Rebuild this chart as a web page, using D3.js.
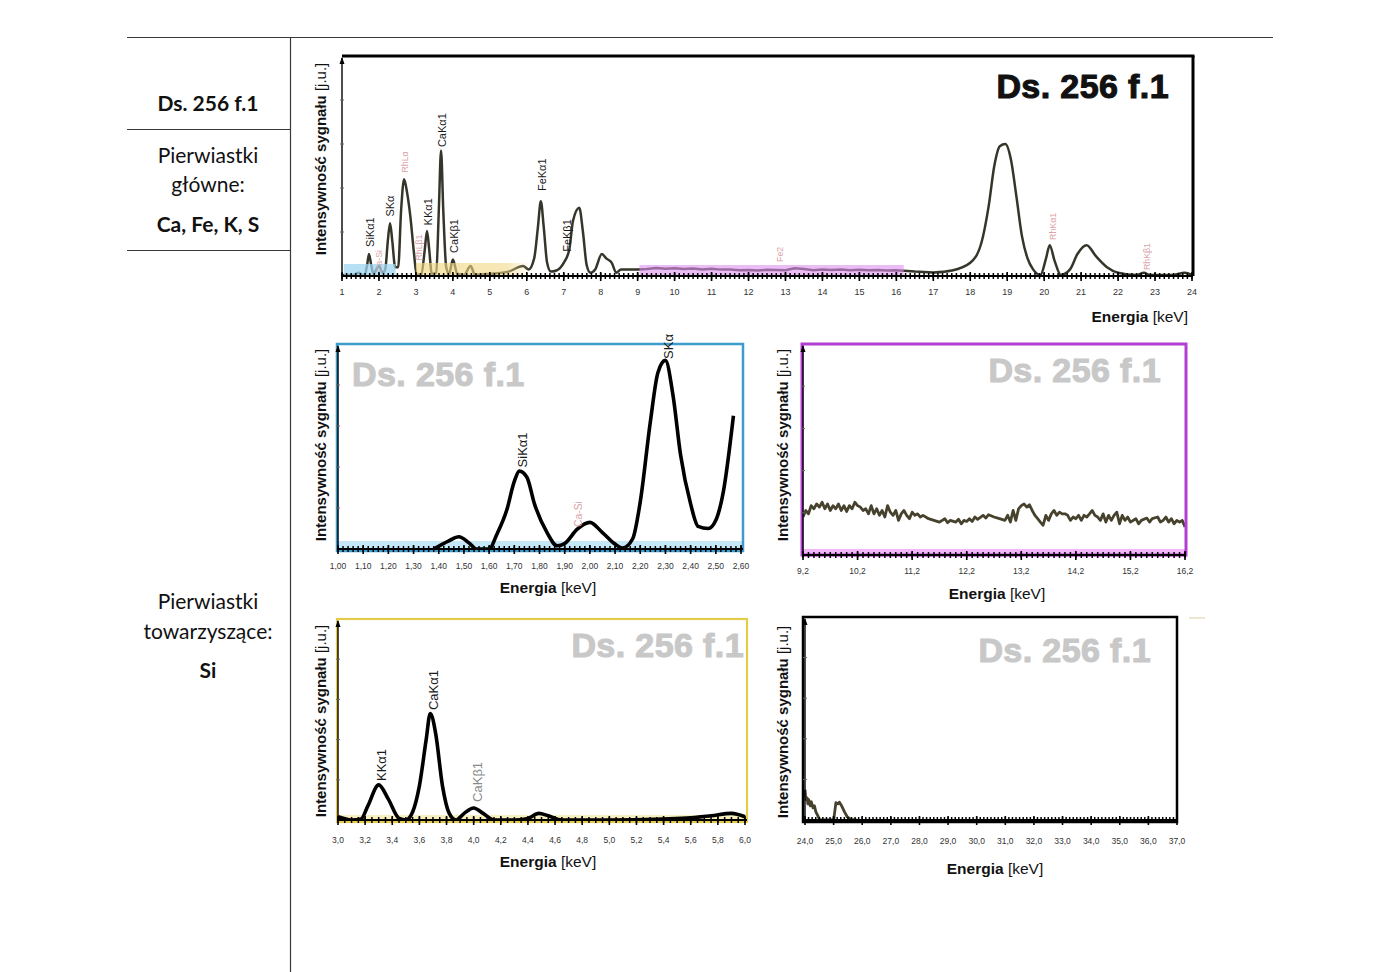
<!DOCTYPE html>
<html><head><meta charset="utf-8">
<script src="https://cdn.jsdelivr.net/npm/d3@7"></script>
<style>html,body{margin:0;padding:0;background:#fff;}svg{display:block;}</style>
</head><body>
<svg id="c" width="1400" height="972"></svg>
<script>
// ---------------- DATA ----------------
const sampleName = "Ds. 256 f.1";
const mainElementsLabel = ["Pierwiastki", "główne:"];
const mainElements = "Ca, Fe, K, S";
const traceElementsLabel = ["Pierwiastki", "towarzyszące:"];
const traceElements = "Si";
const yAxisTitle = ["Intensywność sygnału", " [j.u.]"];
const xAxisTitle = ["Energia", " [keV]"];

// full spectrum 1-24 keV  [energy keV, intensity a.u.]
const mainSpectrum = [
 [1.0,0.5],[1.3,0.5],[1.45,1.5],[1.55,0.5],[1.62,0.6],[1.68,5],[1.73,10],[1.79,5],[1.85,1],[1.9,2],[2.0,4.5],[2.1,1.5],[2.17,3],
 [2.24,16],[2.3,24],[2.36,16],[2.44,4],[2.52,4],[2.6,30],[2.68,44],[2.76,38],[2.85,27],[2.95,10],[3.02,0.5],[3.15,1],
 [3.24,12],[3.3,20.5],[3.36,12],[3.43,1],[3.55,1.5],[3.62,30],[3.68,57],[3.74,30],[3.82,4],[3.9,1],[4.0,7.5],[4.12,1],
 [4.3,0.5],[4.48,4.5],[4.6,0.5],[5.0,1],[5.5,2],[5.9,4.5],[6.05,3],[6.2,8],[6.3,22],[6.38,34],[6.46,22],[6.55,6],[6.65,2],[6.8,2.5],
 [7.0,6],[7.15,12],[7.25,25],[7.42,31],[7.52,20],[7.62,5],[7.72,1.5],[7.85,3],[8.03,10],[8.15,8],[8.3,6],[8.42,1.5],[8.55,3],[8.9,3]
];
const mainSpectrumMid = [
 [8.9,3],[9.0,3],[9.25,3.2],[9.5,3.6],[9.75,3.3],[10.0,3.5],[10.25,3.2],[10.5,3.4],[10.75,3.0],[11.0,3.3],[11.25,2.9],[11.5,3.0],
 [11.75,2.6],[12.0,2.7],[12.25,2.5],[12.5,2.8],[12.75,2.7],[13.0,2.6],[13.25,3.5],[13.5,3.2],[13.75,2.6],[14.0,2.9],[14.25,2.7],
 [14.5,3.0],[14.75,2.6],[15.0,2.8],[15.25,2.6],[15.5,2.7],[15.75,2.5],[16.0,2.6],[16.2,2.4],[16.5,2.0],[17.0,1.6]
];
const mainSpectrumHigh = [
 [17.0,1.6],[17.5,2.5],[18.0,6],[18.3,15],[18.5,32],[18.65,50],[18.8,59],[18.95,60],[19.1,53],[19.25,36],[19.4,18],[19.55,8],
 [19.7,3],[19.9,0.5],[20.05,8],[20.15,14],[20.28,7],[20.45,0.5],[20.7,3],[20.9,10],[21.15,14],[21.4,9],[21.7,4],[22.0,1.5],
 [22.5,0.5],[22.7,1.5],[22.85,0.5],[23.5,0.5],[23.8,1.5],[24.0,0.5]
];
// highlighted windows on the full spectrum [start keV, end keV]
const windowSi = [1.05, 2.45];
const windowCa = [3.0, 6.05];
const windowMid = [9.05, 16.2];

// zoom 1.0-2.6 keV (% of panel height)
const siSpectrum = [
 [1.38,0],[1.44,4],[1.48,6],[1.52,3],[1.55,0],[1.60,0],[1.63,7],[1.67,19],[1.70,33],[1.72,38],[1.75,35],[1.78,22],[1.83,8],
 [1.87,1.6],[1.90,2.7],[1.95,9.7],[2.00,13],[2.05,8],[2.10,2.4],[2.13,0.5],[2.17,5],[2.20,23],[2.24,62],[2.27,86],[2.30,92],
 [2.33,75],[2.36,46],[2.40,22],[2.43,11],[2.47,10],[2.50,14],[2.53,28],[2.57,65]
];
// zoom 3.0-6.0 keV
const caSpectrum = [
 [3.0,1.6],[3.1,0],[3.17,0.5],[3.22,7],[3.3,17.5],[3.37,10.5],[3.45,0.8],[3.5,0],[3.55,4],[3.6,17],[3.65,40],[3.68,53],[3.72,43],
 [3.77,17],[3.82,3.3],[3.87,0],[3.93,3.3],[4.0,6],[4.07,3.3],[4.15,0],[4.3,0],[4.4,0.8],[4.48,3.3],[4.55,2.1],[4.65,0],[5.0,0],
 [5.4,0.5],[5.6,1.1],[5.75,2.1],[5.9,3.3],[6.0,1.6]
];
// zoom 9.2-16.2 keV
const midSpectrum = [
 [9.2,18.0],[9.25,21.1],[9.3,19.5],[9.35,23.4],[9.4,21.9],[9.45,24.2],[9.5,22.7],[9.55,25.0],[9.6,21.9],[9.65,24.2],[9.7,21.1],
 [9.75,23.4],[9.8,21.9],[9.85,24.2],[9.9,21.1],[9.95,23.4],[10.0,20.6],[10.05,23.4],[10.1,21.9],[10.15,25.0],[10.2,23.4],
 [10.25,22.7],[10.3,21.1],[10.35,21.9],[10.4,19.5],[10.45,23.4],[10.5,19.5],[10.55,21.9],[10.6,18.8],[10.65,21.1],[10.7,18.0],
 [10.75,23.4],[10.8,20.3],[10.85,18.8],[10.9,21.1],[10.95,16.4],[11.0,19.5],[11.05,21.1],[11.1,18.8],[11.15,17.2],[11.2,20.3],
 [11.25,18.8],[11.3,19.5],[11.35,18.0],[11.4,18.8],[11.5,17.2],[11.6,16.4],[11.7,15.6],[11.8,17.2],[11.85,15.3],[11.9,16.4],
 [12.0,15.6],[12.05,16.9],[12.1,14.8],[12.15,16.4],[12.2,15.9],[12.25,17.2],[12.3,15.9],[12.35,18.0],[12.4,16.9],[12.5,18.8],
 [12.55,17.5],[12.6,19.1],[12.7,18.0],[12.8,17.2],[12.9,16.4],[12.95,18.8],[13.0,15.6],[13.05,21.1],[13.1,16.4],[13.15,21.9],
 [13.2,23.4],[13.25,24.2],[13.3,22.7],[13.35,23.8],[13.4,21.1],[13.45,18.8],[13.5,17.2],[13.55,15.6],[13.6,14.1],[13.65,18.8],
 [13.7,16.4],[13.75,19.5],[13.8,21.1],[13.85,18.8],[13.9,20.3],[13.95,19.5],[14.0,19.5],[14.05,18.8],[14.1,16.4],[14.15,18.0],
 [14.2,17.2],[14.25,18.8],[14.3,16.4],[14.35,18.8],[14.4,18.0],[14.45,19.5],[14.5,21.1],[14.55,18.8],[14.6,18.0],[14.65,16.4],
 [14.7,19.5],[14.75,15.6],[14.8,18.8],[14.85,16.4],[14.9,18.8],[14.95,20.3],[15.0,14.8],[15.05,18.8],[15.1,16.4],[15.15,18.0],
 [15.2,15.6],[15.3,17.2],[15.35,14.8],[15.4,16.4],[15.5,17.5],[15.55,15.6],[15.6,17.2],[15.7,18.0],[15.75,15.6],[15.8,16.4],
 [15.85,18.0],[15.9,15.6],[15.95,17.2],[16.0,14.8],[16.05,16.4],[16.1,15.6],[16.15,16.4],[16.2,13.3]
];
// zoom 24-37 keV
const highSpectrum = [
 [24.0,15],[24.03,10],[24.07,11],[24.1,8],[24.13,10],[24.18,7],[24.22,9],[24.28,6],[24.33,7],[24.38,4],[24.45,2],[24.52,0],
 [25.0,0],[25.03,3],[25.08,8.5],[25.15,8],[25.2,8.8],[25.28,7],[25.38,4],[25.48,1.5],[25.6,0.3],[25.8,0]
];

// peak labels [text, energy, intensity at label start, kind]
const mainLabels = [
 ["SiKα1",1.76,13.2,"k"],["Ca-Si",1.97,1.8,"p"],["SKα",2.30,27,"k"],["RhLα",2.68,47,"p"],["RhLβ1",3.05,7,"p"],
 ["KKα1",3.33,23,"k"],["CaKα1",3.70,58.6,"k"],["CaKβ1",4.03,10.5,"k"],["FeKα1",6.41,38.6,"k"],["FeKβ1",7.09,11,"k"],
 ["Fe2",12.82,6.4,"p"],["RhKα1",20.21,16.4,"p"],["RhKβ1",22.75,2.7,"p"]
];
const siLabels = [["SiKα1",1.73,39.8,"k"],["Ca-Si",1.95,10.7,"p"],["SKα",2.31,92.7,"k"]];
const caLabels = [["KKα1",3.32,19.4,"k"],["CaKα1",3.70,54.7,"k"],["CaKβ1",4.03,9,"g"]];

// tick values
const mainTicks = d3.range(1, 25, 1);
const siTicks = d3.range(1.0, 2.601, 0.1);
const caTicks = d3.range(3.0, 6.001, 0.2);
const midTicks = d3.range(9.2, 16.21, 1);
const highTicks = d3.range(24, 37.01, 1);

// ---------------- DRAWING ----------------
const svg = d3.select("#c");
const FONT = "'Liberation Sans', Arial, sans-serif";
const CAL = "Lato, 'Open Sans', sans-serif";
const loc = d3.formatLocale({decimal: ",", thousands: " ", grouping: [3], currency: ["", ""]});
const labelColor = {k: "#1a1a1a", p: "#d9a3a8", g: "#8a8a8a"};

// page table lines
const page = svg.append("g").attr("stroke", "#3a3a3a").attr("stroke-width", 1.2);
page.append("line").attr("x1", 127).attr("x2", 1273).attr("y1", 37.5).attr("y2", 37.5);
page.append("line").attr("x1", 290.5).attr("x2", 290.5).attr("y1", 37).attr("y2", 972);
page.append("line").attr("x1", 127).attr("x2", 290).attr("y1", 129.5).attr("y2", 129.5);
page.append("line").attr("x1", 127).attr("x2", 290).attr("y1", 250.5).attr("y2", 250.5);

function leftText(t, y, bold) {
  svg.append("text").attr("x", 208).attr("y", y).attr("text-anchor", "middle")
    .attr("font-family", CAL).attr("font-size", 21).attr("font-weight", bold ? 700 : 400)
    .attr("fill", "#111").text(t);
}
leftText(sampleName, 111, true);
leftText(mainElementsLabel[0], 163, false);
leftText(mainElementsLabel[1], 192, false);
leftText(mainElements, 232, true);
leftText(traceElementsLabel[0], 609, false);
leftText(traceElementsLabel[1], 639, false);
leftText(traceElements, 678, true);

function yTitle(g, x, yc) {
  const t = g.append("text").attr("transform", `translate(${x},${yc}) rotate(-90)`)
    .attr("text-anchor", "middle").attr("font-family", FONT).attr("font-size", 15).attr("fill", "#111");
  t.append("tspan").attr("font-weight", 700).text(yAxisTitle[0]);
  t.append("tspan").attr("font-weight", 400).text(yAxisTitle[1]);
}
function xTitle(g, x, y, anchor) {
  const t = g.append("text").attr("x", x).attr("y", y).attr("text-anchor", anchor)
    .attr("font-family", FONT).attr("font-size", 15.5).attr("fill", "#111");
  t.append("tspan").attr("font-weight", 700).text(xAxisTitle[0]);
  t.append("tspan").attr("font-weight", 400).text(xAxisTitle[1]);
}

function panel(cfg) {
  const g = svg.append("g");
  const x = d3.scaleLinear().domain(cfg.xDomain).range([cfg.x0, cfg.x1]);
  const y = d3.scaleLinear().domain([0, 100]).range([cfg.yBase, cfg.yTop]);
  const line = d3.line().x(d => x(d[0])).y(d => y(d[1]));

  if (cfg.strip) {
    g.append("rect").attr("x", cfg.fx0).attr("y", cfg.yBase - cfg.strip.h).attr("width", cfg.fx1 - cfg.fx0)
      .attr("height", cfg.strip.h + 2).attr("fill", cfg.strip.color);
  }
  cfg.series.forEach(s => {
    g.append("path").datum(s.data).attr("fill", "none").attr("stroke", cfg.lineColor)
      .attr("stroke-width", cfg.lineWidth).attr("stroke-linejoin", "round")
      .attr("d", line.curve(s.curve || d3.curveMonotoneX));
  });
  if (cfg.bands) {
    const defs = svg.append("defs");
    cfg.bands.forEach((b, i) => {
      let fill = b.color;
      if (b.fade) {
        const id = "fade" + i + Math.round(cfg.x0);
        const gr = defs.append("linearGradient").attr("id", id).attr("x1", "0").attr("x2", "1").attr("y1", "0").attr("y2", "0");
        gr.append("stop").attr("offset", "0").attr("stop-color", b.color).attr("stop-opacity", 1);
        gr.append("stop").attr("offset", "0.8").attr("stop-color", b.color).attr("stop-opacity", 0.9);
        gr.append("stop").attr("offset", "1").attr("stop-color", b.color).attr("stop-opacity", 0.1);
        fill = `url(#${id})`;
      }
      g.append("rect").attr("x", x(b.range[0])).attr("width", x(b.range[1]) - x(b.range[0]))
        .attr("y", cfg.yBase - b.h).attr("height", b.h).attr("fill", fill).attr("opacity", b.opacity);
    });
  }
  // frame
  if (cfg.frame) {
    g.append("rect").attr("x", cfg.fx0).attr("y", cfg.yTop).attr("width", cfg.fx1 - cfg.fx0)
      .attr("height", cfg.fy1 - cfg.yTop).attr("fill", "none").attr("stroke", cfg.frame.color)
      .attr("stroke-width", cfg.frame.w);
  } else {
    g.append("line").attr("x1", cfg.x0).attr("x2", cfg.fx1 + 1.5).attr("y1", cfg.yTop).attr("y2", cfg.yTop)
      .attr("stroke", "#000").attr("stroke-width", 3);
    g.append("line").attr("x1", cfg.fx1).attr("x2", cfg.fx1).attr("y1", cfg.yTop).attr("y2", cfg.yBase)
      .attr("stroke", "#000").attr("stroke-width", 3);
  }
  // y axis with arrow
  g.append("line").attr("x1", cfg.x0).attr("x2", cfg.x0).attr("y1", cfg.yBase).attr("y2", cfg.yTop + 2)
    .attr("stroke", "#000").attr("stroke-width", 1.4);
  g.append("path").attr("d", `M${cfg.x0 - 2.5},${cfg.yTop + 8} L${cfg.x0},${cfg.yTop + 1} L${cfg.x0 + 2.5},${cfg.yTop + 8} Z`).attr("fill", "#000");
  g.selectAll("line.yt").data(y.ticks(5).slice(1, -1)).join("line").attr("class", "yt")
    .attr("x1", cfg.x0 - 2).attr("x2", cfg.x0 + 2).attr("y1", d => y(d)).attr("y2", d => y(d))
    .attr("stroke", "#666").attr("stroke-width", 1);
  // x axis comb
  g.append("line").attr("x1", cfg.x0).attr("x2", cfg.fx1).attr("y1", cfg.yBase).attr("y2", cfg.yBase)
    .attr("stroke", "#000").attr("stroke-width", 2);
  const minor = d3.range(cfg.xDomain[0], cfg.xDomain[1] + 1e-6, cfg.minorStep);
  g.selectAll("line.mt").data(minor).join("line").attr("class", "mt")
    .attr("x1", d => x(d)).attr("x2", d => x(d)).attr("y1", cfg.yBase - 3).attr("y2", cfg.yBase + 3)
    .attr("stroke", "#000").attr("stroke-width", 1.5);
  g.selectAll("line.Mt").data(cfg.ticks).join("line").attr("class", "Mt")
    .attr("x1", d => x(d)).attr("x2", d => x(d)).attr("y1", cfg.yBase - 4).attr("y2", cfg.yBase + 5)
    .attr("stroke", "#000").attr("stroke-width", 1.6);
  g.selectAll("text.tl").data(cfg.ticks).join("text").attr("class", "tl")
    .attr("x", d => x(d)).attr("y", cfg.tickY).attr("text-anchor", "middle")
    .attr("font-family", FONT).attr("font-size", cfg.tickSize).attr("fill", "#333")
    .text(d => cfg.tickFmt(d));
  // peak labels
  if (cfg.labels) {
    g.selectAll("text.pl").data(cfg.labels).join("text").attr("class", "pl")
      .attr("transform", d => `translate(${x(d[1]) + cfg.labelSize * 0.36},${y(d[2])}) rotate(-90)`)
      .attr("font-family", FONT).attr("font-size", d => d[3] === "p" ? cfg.labelSize * 0.8 : cfg.labelSize)
      .attr("fill", d => labelColor[d[3]]).text(d => d[0]);
  }
  // title
  g.append("text").attr("x", cfg.title.x).attr("y", cfg.title.y).attr("text-anchor", cfg.title.anchor)
    .attr("font-family", FONT).attr("font-weight", 700).attr("font-size", 34)
    .attr("letter-spacing", 0.4).attr("stroke", cfg.title.color).attr("stroke-width", 1.1)
    .attr("fill", cfg.title.color).text(sampleName);
  yTitle(g, cfg.yTitle[0], cfg.yTitle[1]);
  xTitle(g, cfg.xTitle[0], cfg.xTitle[1], cfg.xTitle[2]);
  return g;
}

// main spectrum
panel({
  xDomain: [1, 24], x0: 342, x1: 1192, fx0: 342, fx1: 1193, yTop: 56, yBase: 276, fy1: 276,
  series: [{data: mainSpectrum}, {data: mainSpectrumMid, curve: d3.curveLinear}, {data: mainSpectrumHigh}],
  lineColor: "#36352a", lineWidth: 2.5,
  bands: [
    {range: windowSi, h: 12, color: "#9fd6f0", opacity: 0.75},
    {range: windowCa, h: 13, color: "#f1d783", opacity: 0.65, fade: true},
    {range: windowMid, h: 11, color: "#df8ff0", opacity: 0.6}
  ],
  minorStep: 0.125, ticks: mainTicks, tickY: 295, tickSize: 9, tickFmt: d => String(d),
  labels: mainLabels, labelSize: 11,
  title: {x: 1169, y: 98, anchor: "end", color: "#111"},
  yTitle: [326, 159], xTitle: [1188, 322, "end"]
});

// Si window
panel({
  xDomain: [1.0, 2.6], x0: 338, x1: 741, fx0: 337, fx1: 743, yTop: 344, yBase: 549, fy1: 551,
  frame: {color: "#3d9ccc", w: 2.5}, strip: {h: 8, color: "#c6e7f6"},
  series: [{data: siSpectrum}], lineColor: "#000", lineWidth: 3.6,
  minorStep: 0.02, ticks: siTicks, tickY: 569, tickSize: 8.5, tickFmt: loc.format(".2f"),
  labels: siLabels, labelSize: 13,
  title: {x: 352, y: 386, anchor: "start", color: "#c8c8c8"},
  yTitle: [326, 445], xTitle: [548, 593, "middle"]
});

// mid window
panel({
  xDomain: [9.2, 16.2], x0: 803, x1: 1185, fx0: 802, fx1: 1186, yTop: 344, yBase: 555, fy1: 555,
  frame: {color: "#b23fd2", w: 3}, strip: {h: 6, color: "#f2b5f7"},
  series: [{data: midSpectrum, curve: d3.curveLinear}], lineColor: "#47422d", lineWidth: 2.8,
  minorStep: 0.1, ticks: midTicks, tickY: 574, tickSize: 8.5, tickFmt: loc.format(".1f"),
  title: {x: 1161, y: 382, anchor: "end", color: "#c8c8c8"},
  yTitle: [788, 445], xTitle: [997, 599, "middle"]
});

// Ca window
panel({
  xDomain: [3.0, 6.0], x0: 338, x1: 745, fx0: 337, fx1: 747, yTop: 619, yBase: 820, fy1: 822,
  frame: {color: "#e3cb4c", w: 2.2}, strip: {h: 5, color: "#f6efc0"},
  series: [{data: caSpectrum}], lineColor: "#000", lineWidth: 3.6,
  minorStep: 0.05, ticks: caTicks, tickY: 843, tickSize: 8.5, tickFmt: loc.format(".1f"),
  labels: caLabels, labelSize: 13,
  title: {x: 744, y: 657, anchor: "end", color: "#c8c8c8"},
  yTitle: [326, 721], xTitle: [548, 867, "middle"]
});

// high window
panel({
  xDomain: [24, 37], x0: 805, x1: 1177, fx0: 803, fx1: 1177, yTop: 617, yBase: 820, fy1: 822,
  frame: {color: "#000", w: 2.5},
  series: [{data: highSpectrum, curve: d3.curveLinear}], lineColor: "#47422d", lineWidth: 2.8,
  minorStep: 0.125, ticks: highTicks, tickY: 844, tickSize: 8.5, tickFmt: loc.format(".1f"),
  title: {x: 1151, y: 662, anchor: "end", color: "#c8c8c8"},
  yTitle: [788, 722], xTitle: [995, 874, "middle"]
});
svg.append("line").attr("x1", 1189).attr("x2", 1205).attr("y1", 618).attr("y2", 618)
  .attr("stroke", "#efe6cf").attr("stroke-width", 2);
</script>
</body></html>
